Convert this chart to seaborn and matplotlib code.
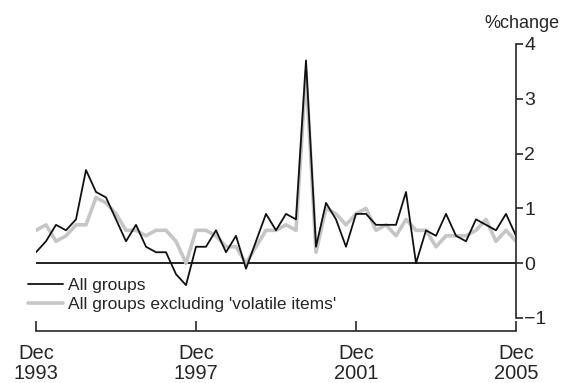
import pandas as pd
import matplotlib
matplotlib.use("Agg")
import matplotlib.pyplot as plt
import seaborn as sns

# quarterly % change, Dec 1993 .. Dec 2005
all_groups = [0.2, 0.4, 0.7, 0.6, 0.8, 1.7, 1.3, 1.2, 0.8, 0.4,
              0.7, 0.3, 0.2, 0.2, -0.2, -0.4, 0.3, 0.3, 0.6, 0.2,
              0.5, -0.1, 0.4, 0.9, 0.6, 0.9, 0.8, 3.7, 0.3, 1.1,
              0.8, 0.3, 0.9, 0.9, 0.7, 0.7, 0.7, 1.3, 0.0, 0.6,
              0.5, 0.9, 0.5, 0.4, 0.8, 0.7, 0.6, 0.9, 0.5]
excl_volatile = [0.6, 0.7, 0.4, 0.5, 0.7, 0.7, 1.2, 1.1, 0.9, 0.6,
                 0.6, 0.5, 0.6, 0.6, 0.4, 0.0, 0.6, 0.6, 0.5, 0.3,
                 0.3, 0.0, 0.3, 0.6, 0.6, 0.7, 0.6, 3.5, 0.2, 1.0,
                 0.9, 0.7, 0.9, 1.0, 0.6, 0.7, 0.5, 0.8, 0.6, 0.6,
                 0.3, 0.5, 0.5, 0.5, 0.6, 0.8, 0.4, 0.6, 0.4]
tick_pos = [0, 16, 32, 48]
tick_labels = ["Dec\n1993", "Dec\n1997", "Dec\n2001", "Dec\n2005"]
y_ticks = [-1, 0, 1, 2, 3, 4]

df = pd.DataFrame({
    "q": list(range(len(all_groups))),
    "All groups": all_groups,
    "All groups excluding 'volatile items'": excl_volatile,
})

sns.set_style("ticks")
plt.rcParams["font.family"] = ["Liberation Sans", "DejaVu Sans"]
plt.rcParams["font.size"] = 13

fig = plt.figure(figsize=(5.65, 3.83), dpi=100)
ax = fig.add_axes([36 / 565, 65 / 383, 480 / 565, 274 / 383])

sns.lineplot(data=df, x="q", y="All groups excluding 'volatile items'", ax=ax,
             color="#c6c6c6", lw=2.6, label="All groups excluding 'volatile items'")
sns.lineplot(data=df, x="q", y="All groups", ax=ax,
             color="#111111", lw=1.3, label="All groups")
ax.axhline(0, color="#111111", lw=1.3, zorder=1)

ax.set_xlim(0, 48)
ax.set_ylim(-1, 4)
ax.set_xlabel("")
ax.set_ylabel("")

for s in ["top", "left"]:
    ax.spines[s].set_visible(False)
ax.spines["bottom"].set_position(("outward", 9))
ax.spines["bottom"].set_linewidth(1.2)
ax.spines["right"].set_linewidth(1.2)

ax.set_xticks(tick_pos)
ax.set_xticklabels(tick_labels, linespacing=1.05)
ax.yaxis.tick_right()
ax.set_yticks(y_ticks)
ax.set_yticklabels([str(v).replace("-", "\u2212") for v in y_ticks])
ax.tick_params(axis="x", direction="in", length=7, width=1.2, pad=10,
               labelsize=14.5)
ax.tick_params(axis="y", direction="out", length=5, width=1.2, pad=1,
               labelsize=14)

ax.text(1.012, 1.045, "%change", transform=ax.transAxes, ha="center",
        va="bottom", fontsize=13)

h, l = ax.get_legend_handles_labels()
ax.legend(h[::-1], l[::-1], loc="upper left", bbox_to_anchor=(-0.017, 0.148),
          frameon=False, fontsize=12.5, handlelength=2.0, handletextpad=0.3,
          labelspacing=0.25, borderaxespad=0, borderpad=0)

fig.savefig("out.png", dpi=100)
